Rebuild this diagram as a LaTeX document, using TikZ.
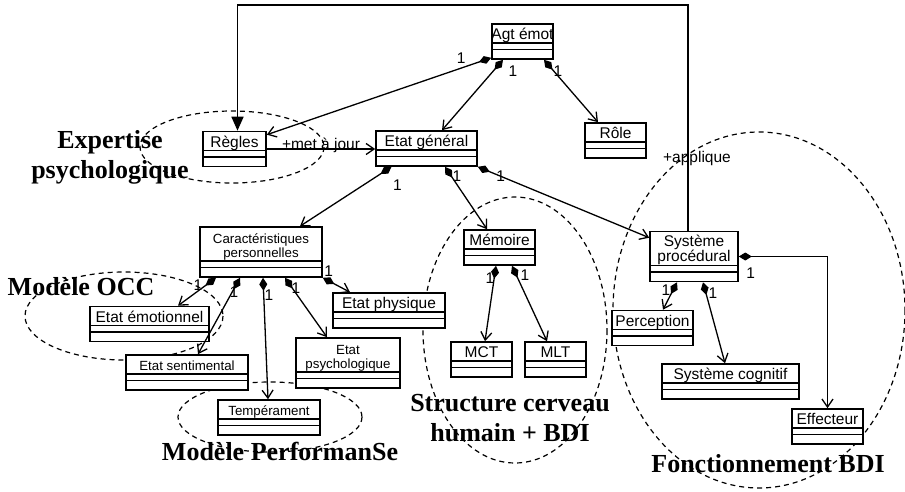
\documentclass[tikz,border=0pt]{standalone}
\usepackage{fontspec}
\setmainfont{Liberation Sans}
\newfontfamily\zonefont{Liberation Serif}
\usetikzlibrary{arrows.meta,positioning}

\newcommand{\classfont}{\fontsize{15.5}{15}\selectfont}
\newcommand{\smallclassfont}{\fontsize{13.3}{14}\selectfont}

\tikzset{
  class_box/.style={draw, fill=white, line width=1.6pt, minimum height=35pt, inner sep=0pt,
    path picture={
      \draw[line width=1.5pt]
        ([yshift=9.5pt]path picture bounding box.south west) -- ([yshift=9.5pt]path picture bounding box.south east)
        ([yshift=16pt]path picture bounding box.south west) -- ([yshift=16pt]path picture bounding box.south east);
    }},
  class_name/.style={anchor=north, minimum height=0pt, inner sep=2pt, text height=14.5pt, align=center},
  tall/.style={class_box/.append style={minimum height=50pt}, class_name/.append style={text height=29pt}},
  pics/uml_class/.style args={#1,#2}{
     code={
        \node[class_box] (#1) at (0,0) {};
        \node[class_name] (#1_name) at (#1.north) {#2};
     }
  },
  comp/.style={line width=1.3pt, {Diamond[length=13pt,width=8pt]}-{Straight Barb[length=8pt,width=11pt]}},
  assoc/.style={line width=1.3pt, -{Straight Barb[length=8pt,width=11pt]}},
  region/.style={line width=1.2pt, dash pattern=on 5pt off 4pt},
  zone/.style={font=\zonefont\bfseries\fontsize{26}{30}\selectfont, align=center, inner sep=0pt},
  mult/.style={inner sep=1pt}
}

\begin{document}
\begin{tikzpicture}[x=1pt, y=-1pt, font=\classfont]
  \useasboundingbox (0,0) rectangle (905,491);
  % zones
  \node[zone] (expertise) at (110,157) {Expertise\\psychologique};
  \node[zone, anchor=base] (occ) at (81,295) {Modèle OCC};
  \node[zone, anchor=base] (performanse) at (280,460) {Modèle PerformanSe};
  \node[zone] (cerveau) at (510,418) {Structure cerveau\\humain + BDI};
  \node[zone, anchor=base] (bdi) at (768,472) {Fonctionnement BDI};
  \draw[region] (232,147) ellipse [x radius=92, y radius=36];
  \draw[region] (124,316) ellipse [x radius=99, y radius=44];
  \draw[region] (270,417) ellipse [x radius=92, y radius=35];
  \draw[region] (515,330) ellipse [x radius=92, y radius=133];
  \draw[region] (759,310) ellipse [x radius=146, y radius=178];

  % classes
  \pic[minimum width=61pt] at (522.5,41.5) {uml_class={agt,Agt émot}};
  \pic[minimum width=63pt] at (234.5,149) {uml_class={regles,Règles}};
  \pic[minimum width=101pt] at (426.5,148.5) {uml_class={etat_gen,Etat général}};
  \pic[minimum width=61pt] at (615.5,140.5) {uml_class={role,Rôle}};
  \pic[minimum width=122pt, tall, font=\smallclassfont] at (261,252) {uml_class={caract,Caractéristiques\\personnelles}};
  \pic[minimum width=119pt] at (149.5,324) {uml_class={emo,Etat émotionnel}};
  \pic[minimum width=122pt, font=\smallclassfont] at (187,372.5) {uml_class={senti,Etat sentimental}};
  \pic[minimum width=102pt, font=\smallclassfont] at (269,417.5) {uml_class={temper,Tempérament}};
  \pic[minimum width=104pt, tall, font=\smallclassfont] at (348,363) {uml_class={psycho,Etat\\psychologique}};
  \pic[minimum width=112pt] at (389,310.5) {uml_class={physique,Etat physique}};
  \pic[minimum width=71pt] at (499.5,247.5) {uml_class={memoire,Mémoire}};
  \pic[minimum width=61pt] at (481.5,359.5) {uml_class={mct,MCT}};
  \pic[minimum width=61pt] at (555.5,359.5) {uml_class={mlt,MLT}};
  \pic[minimum width=88pt, tall] at (694,256.5) {uml_class={sysproc,Système\\procédural}};
  \pic[minimum width=81pt] at (652.5,328) {uml_class={percep,Perception}};
  \pic[minimum width=137pt] at (730.5,381.5) {uml_class={syscog,Système cognitif}};
  \pic[minimum width=71pt] at (827.5,426.5) {uml_class={effect,Effecteur}};

  % links
  \draw[comp] ([yshift=2pt]agt.south west) node[mult, left=24pt] (m_regles) {1} -- ([yshift=-4pt]regles.north east);
  \draw[comp] ([xshift=-19.5pt]agt.south) node[mult, below right=4pt and 4pt] (m_etat) {1} -- ([xshift=15.5pt]etat_gen.north);
  \draw[comp] ([xshift=21.5pt]agt.south) node[mult, below right=4pt and 8pt] (m_role) {1} -- ([xshift=-17.5pt]role.north);
  \draw[comp] ([xshift=-35pt]etat_gen.south) node[mult, below right=11pt and 0pt] (m_caract) {1} -- ([xshift=39pt]caract.north);
  \draw[comp] ([xshift=18.5pt]etat_gen.south) node[mult, below right=2pt and 6pt] (m_memoire) {1} -- ([xshift=-12.5pt]memoire.north);
  \draw[comp] (etat_gen.south east) node[mult, below right=2pt and 17pt] (m_sysproc) {1} -- ([yshift=-7pt]sysproc.north west);
  \draw[comp] ([xshift=-45pt]caract.south) node[mult, below left=0pt and 12pt] (m_emo) {1} -- ([xshift=28.5pt]emo.north);
  \draw[comp] ([xshift=-21pt]caract.south) node[mult, below left=7pt and 0pt] (m_senti) {1} -- ([xshift=11pt]senti.north);
  \draw[comp] ([xshift=2pt]caract.south) node[mult, below right=10pt and 0pt] (m_temper) {1} -- ([xshift=-1pt]temper.north);
  \draw[comp] ([xshift=24pt]caract.south) node[mult, below right=3pt and 5pt] (m_psycho) {1} -- ([xshift=-21pt]psycho.north);
  \draw[comp] (caract.south east) node[mult, above right=0pt and 0pt] (m_physique) {1} -- ([xshift=-39pt]physique.north);
  \draw[comp] ([xshift=-3.5pt]memoire.south) node[mult, below left=5pt and 0pt] (m_mct) {1} -- ([xshift=3.5pt]mct.north);
  \draw[comp] ([xshift=12.5pt]memoire.south) node[mult, below right=2pt and 7pt] (m_mlt) {1} -- ([xshift=-8.5pt]mlt.north);
  \draw[comp] ([xshift=-17pt]sysproc.south) node[mult, below left=1pt and 5pt] (m_percep) {1} -- ([xshift=10.5pt]percep.north);
  \draw[comp] ([xshift=9pt]sysproc.south) node[mult, below right=4pt and 4pt] (m_syscog) {1} -- ([xshift=-5.5pt]syscog.north);
  \draw[comp] (sysproc.east) node[mult, below right=10pt and 6pt] (m_effect) {1} -| (effect.north);
  \draw[assoc] (regles.east) -- (regles.east -| etat_gen.west) node[midway, anchor=base] (met) {+met à jour};
  \coordinate (apply_start) at ([xshift=-6pt]sysproc.north);
  \coordinate (top_line) at (450,5);
  \draw[line width=1.6pt, -{Triangle[length=14pt,width=12pt]}] (apply_start) |- node[pos=0.15, anchor=base, xshift=9pt] (applique) {+applique} (top_line) -| ([xshift=3pt]regles.north);
\end{tikzpicture}
\end{document}
